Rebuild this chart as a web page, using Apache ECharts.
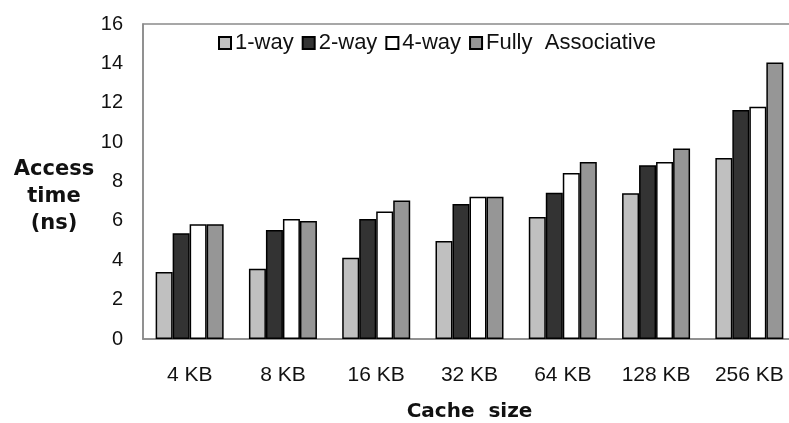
<!DOCTYPE html>
<html>
<head>
<meta charset="utf-8">
<script src="https://cdn.jsdelivr.net/npm/echarts@6/dist/echarts.min.js"></script>
<style>html,body{margin:0;padding:0;background:#fff}#c{width:789px;height:423px}</style>
</head>
<body>
<div id="c"></div>
<script>
const categories = ['4 KB', '8 KB', '16 KB', '32 KB', '64 KB', '128 KB', '256 KB'];
const seriesNames = ['1-way', '2-way', '4-way', 'Fully  Associative'];
const oneWay = [3.4, 3.57, 4.13, 4.98, 6.2, 7.4, 9.2];
const twoWay = [5.37, 5.54, 6.09, 6.86, 7.43, 8.82, 11.63];
const fourWay = [5.83, 6.09, 6.47, 7.23, 8.43, 8.99, 11.8];
const fullyAssoc = [5.83, 5.99, 7.04, 7.23, 8.99, 9.67, 14.05];
const yTicks = [0, 2, 4, 6, 8, 10, 12, 14, 16];
const yTitle = 'Access\ntime\n(ns)';
const xTitle = 'Cache  size';

const colors = ['#c0c0c0', '#333333', '#ffffff', '#969696'];
const allData = [oneWay, twoWay, fourWay, fullyAssoc];
const font = '"Liberation Sans", Arial, sans-serif';
const boldFont = '"DejaVu Sans", "Liberation Sans", sans-serif';

const chart = echarts.init(document.getElementById('c'), null, {renderer: 'canvas'});
chart.setOption({
  animation: false,
  backgroundColor: '#fff',
  title: {
    text: yTitle,
    left: 54, top: 156, padding: 0,
    textAlign: 'center',
    textStyle: {fontFamily: boldFont, fontSize: 21, fontWeight: 'bold', color: '#111', lineHeight: 27, align: 'center'}
  },
  grid: {
    left: 143, top: 24, width: 653, bottom: 84,
    outerBoundsMode: 'none', containLabel: false,
    show: true, borderColor: '#8a8a8a', borderWidth: 1.5, backgroundColor: 'transparent'
  },
  legend: {
    top: 32, left: 212,
    backgroundColor: '#fff',
    padding: [0, 9, 0, 6],
    itemWidth: 12, itemHeight: 12, itemGap: 8,
    icon: 'rect',
    textStyle: {fontFamily: font, fontSize: 22, color: '#111', padding: [0, 0, 0, -1]},
    data: seriesNames
  },
  xAxis: {
    type: 'category',
    data: categories,
    axisLine: {lineStyle: {color: '#8a8a8a', width: 1.5}},
    axisTick: {show: false},
    axisLabel: {fontFamily: font, fontSize: 21, color: '#111', margin: 26},
    name: xTitle,
    nameLocation: 'middle',
    nameGap: 63,
    nameTextStyle: {fontFamily: boldFont, fontSize: 20, fontWeight: 'bold', color: '#111'}
  },
  yAxis: {
    type: 'value',
    min: yTicks[0], max: yTicks[yTicks.length - 1], interval: 2,
    splitLine: {show: false},
    axisLine: {show: true, lineStyle: {color: '#8a8a8a', width: 1.5}},
    axisTick: {show: false},
    axisLabel: {fontFamily: font, fontSize: 20, color: '#111', margin: 20}
  },
  series: seriesNames.map((n, i) => ({
    name: n,
    type: 'bar',
    data: allData[i],
    barWidth: 17,
    barGap: '0%',
    itemStyle: {color: colors[i], borderColor: '#000', borderWidth: 1.5}
  }))
});
</script>
</body>
</html>
